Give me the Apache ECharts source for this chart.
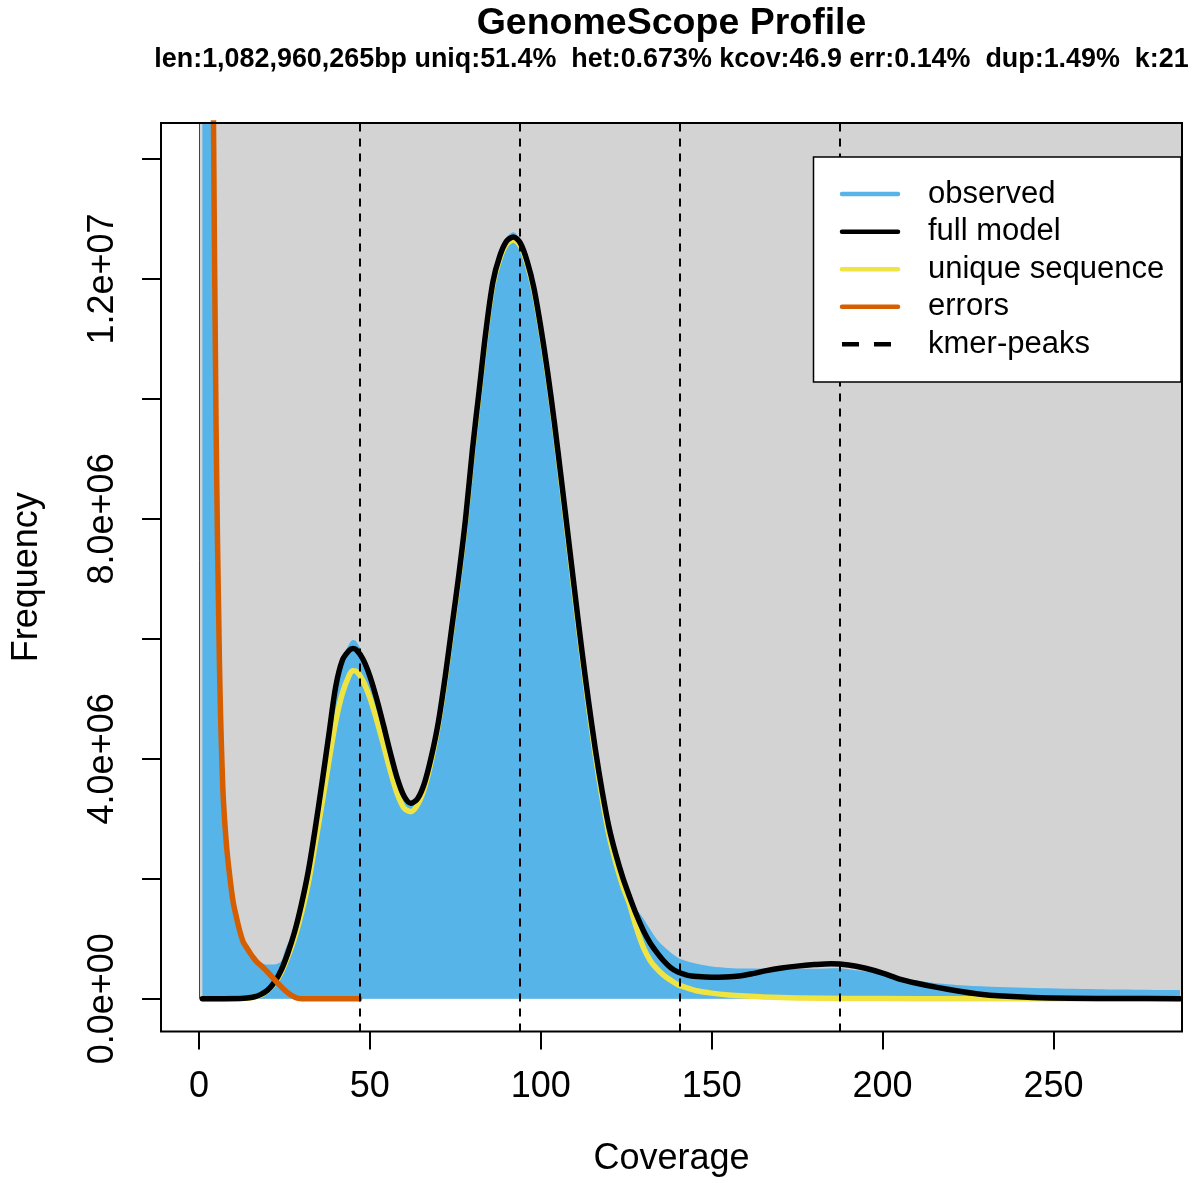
<!DOCTYPE html>
<html>
<head>
<meta charset="utf-8">
<title>GenomeScope Profile</title>
<script src="https://cdn.jsdelivr.net/npm/echarts@6/dist/echarts.min.js"></script>
<style>
  html, body { margin: 0; padding: 0; background: #ffffff; }
  #chart { width: 1194px; height: 1183px; }
</style>
</head>
<body>
<div id="chart"></div>
<script>
// k-mer spectrum: [coverage, frequency]
const observed = [
  [1, 1.8e8], [2, 4.8e7], [3, 2.4e7], [4, 1.62e7], [5, 9.8e6], [6, 5.8e6], [7, 3.6e6],
  [8, 2.7e6], [9, 2.12e6], [10, 1.7e6], [11, 1.42e6], [12, 1.18e6], [13, 1.0e6], [14, 0.88e6],
  [15, 0.79e6], [16, 0.72e6], [17, 0.66e6], [18, 0.61e6], [19, 0.58e6], [20, 0.57e6], [22, 0.57e6],
  [24, 0.62e6], [25, 0.78e6], [26, 0.92e6], [27, 1.05e6], [28, 1.2e6], [30, 1.62e6], [32, 2.15e6],
  [34, 2.87e6], [36, 3.65e6], [38, 4.45e6], [40, 5.23e6], [42, 5.69e6], [44, 5.92e6], [45, 5.98e6],
  [46, 5.96e6], [48, 5.74e6], [50, 5.42e6], [52, 5.03e6], [54, 4.58e6], [56, 4.12e6], [58, 3.7e6],
  [60, 3.4e6], [62, 3.28e6], [64, 3.36e6], [66, 3.62e6], [68, 4.06e6], [70, 4.62e6], [72, 5.38e6],
  [74, 6.23e6], [76, 7.08e6], [78, 8.03e6], [80, 9.18e6], [82, 10.18e6], [84, 11.18e6], [86, 11.98e6],
  [88, 12.42e6], [90, 12.7e6], [92, 12.78e6], [94, 12.65e6], [96, 12.34e6], [98, 11.88e6], [100, 11.24e6],
  [102, 10.49e6], [104, 9.64e6], [106, 8.71e6], [108, 7.76e6], [110, 6.8e6], [112, 5.86e6], [114, 4.99e6],
  [116, 4.19e6], [118, 3.49e6], [120, 2.89e6], [122, 2.45e6], [124, 2.08e6], [126, 1.76e6], [128, 1.5e6],
  [130, 1.34e6], [132, 1.16e6], [134, 0.99e6], [136, 0.87e6], [138, 0.77e6], [140, 0.69e6], [143, 0.62e6],
  [146, 0.58e6], [150, 0.54e6], [155, 0.515e6], [160, 0.505e6], [170, 0.5e6], [180, 0.5e6], [187, 0.51e6],
  [193, 0.47e6], [200, 0.41e6], [207, 0.34e6], [214, 0.27e6], [224, 0.22e6], [234, 0.195e6], [244, 0.18e6],
  [263, 0.16e6], [287, 0.145e6]
];

// fitted full model
const fullModel = [
  [1, 0], [12, 0.005e6], [14, 0.012e6], [16, 0.03e6], [18, 0.07e6], [20, 0.14e6], [22, 0.27e6],
  [24, 0.47e6], [26, 0.76e6], [28, 1.12e6], [30, 1.58e6], [32, 2.13e6], [34, 2.83e6], [36, 3.6e6],
  [38, 4.4e6], [40, 5.2e6], [42, 5.65e6], [44, 5.81e6], [45, 5.84e6], [46, 5.82e6], [48, 5.66e6],
  [50, 5.38e6], [52, 5.0e6], [54, 4.56e6], [56, 4.1e6], [58, 3.68e6], [60, 3.38e6], [62, 3.26e6],
  [64, 3.34e6], [66, 3.6e6], [68, 4.04e6], [70, 4.6e6], [72, 5.35e6], [74, 6.2e6], [76, 7.05e6],
  [78, 8.0e6], [80, 9.15e6], [82, 10.15e6], [84, 11.15e6], [86, 11.95e6], [88, 12.38e6], [90, 12.63e6],
  [92, 12.7e6], [94, 12.6e6], [96, 12.3e6], [98, 11.85e6], [100, 11.2e6], [102, 10.45e6], [104, 9.6e6],
  [106, 8.67e6], [108, 7.72e6], [110, 6.76e6], [112, 5.82e6], [114, 4.95e6], [116, 4.15e6], [118, 3.45e6],
  [120, 2.85e6], [122, 2.4e6], [124, 2.02e6], [126, 1.7e6], [128, 1.4e6], [130, 1.14e6], [132, 0.93e6],
  [134, 0.77e6], [136, 0.63e6], [138, 0.52e6], [140, 0.45e6], [143, 0.39e6], [146, 0.37e6], [150, 0.36e6],
  [154, 0.365e6], [158, 0.38e6], [162, 0.42e6], [166, 0.47e6], [170, 0.51e6], [175, 0.545e6], [180, 0.57e6],
  [185, 0.585e6], [190, 0.565e6], [195, 0.51e6], [200, 0.43e6], [205, 0.33e6], [210, 0.26e6], [216, 0.19e6],
  [222, 0.13e6], [228, 0.08e6], [235, 0.045e6], [244, 0.02e6], [255, 0.008e6], [270, 0.004e6], [287, 0.003e6]
];

// unique (non-repetitive) part of the model
const uniqueSequence = [
  [1, 0], [14, 0.01e6], [16, 0.03e6], [18, 0.06e6], [20, 0.13e6], [22, 0.25e6], [24, 0.43e6],
  [26, 0.7e6], [28, 1.02e6], [30, 1.43e6], [32, 1.93e6], [34, 2.58e6], [36, 3.25e6], [38, 3.95e6],
  [40, 4.62e6], [42, 5.1e6], [44, 5.4e6], [45, 5.47e6], [46, 5.46e6], [48, 5.3e6], [50, 5.02e6],
  [52, 4.65e6], [54, 4.23e6], [56, 3.8e6], [58, 3.42e6], [60, 3.18e6], [62, 3.12e6], [64, 3.24e6],
  [66, 3.52e6], [68, 3.97e6], [70, 4.55e6], [72, 5.3e6], [74, 6.15e6], [76, 7.0e6], [78, 7.95e6],
  [80, 9.1e6], [82, 10.1e6], [84, 11.1e6], [86, 11.9e6], [88, 12.33e6], [90, 12.58e6], [92, 12.65e6],
  [94, 12.55e6], [96, 12.25e6], [98, 11.8e6], [100, 11.15e6], [102, 10.4e6], [104, 9.55e6], [106, 8.6e6],
  [108, 7.64e6], [110, 6.67e6], [112, 5.74e6], [114, 4.85e6], [116, 4.04e6], [118, 3.33e6], [120, 2.72e6],
  [122, 2.26e6], [124, 1.88e6], [126, 1.57e6], [128, 1.18e6], [130, 0.86e6], [132, 0.64e6], [134, 0.5e6],
  [136, 0.39e6], [138, 0.31e6], [140, 0.24e6], [143, 0.18e6], [146, 0.13e6], [150, 0.095e6], [155, 0.065e6],
  [160, 0.045e6], [165, 0.03e6], [175, 0.015e6], [190, 0.007e6], [210, 0.003e6], [287, 0]
];

// sequencing-error k-mers
const errors = [
  [4, 1.65e7], [5, 9.6e6], [6, 5.6e6], [7, 3.5e6], [8, 2.6e6], [9, 2.05e6], [10, 1.62e6],
  [11, 1.35e6], [12, 1.12e6], [13, 0.94e6], [14, 0.85e6], [15, 0.76e6], [16, 0.68e6], [17, 0.61e6],
  [18, 0.56e6], [30, 0], [47, 0]
];

// k-mer peak positions (multiples of kcov)
const kmerPeaks = [46.9, 93.8, 140.7, 187.6];

// axis ticks and labels
const xTicks = [0, 50, 100, 150, 200, 250];
const yTicks = [0, 2e6, 4e6, 6e6, 8e6, 10e6, 12e6, 14e6];
const yLabelValues = [0, 4e6, 8e6, 12e6];
const yLabelTexts = ['0.0e+00', '4.0e+06', '8.0e+06', '1.2e+07'];

const legendNames = ['observed', 'full model', 'unique sequence', 'errors', 'kmer-peaks'];

const titleText = 'GenomeScope Profile';
const subtitleText = 'len:1,082,960,265bp uniq:51.4%  het:0.673% kcov:46.9 err:0.14%  dup:1.49%  k:21';

// ---- presentation ----
const FONT = 'Liberation Sans, Arial, Helvetica, sans-serif';
const COL_HIST = '#56B4E9';
const COL_MODEL = '#000000';
const COL_UNIQUE = '#F0E442';
const COL_ERR = '#D55E00';
const COL_BG = '#D3D3D3';

const X_MIN = -11.1, X_MAX = 287.6;
const Y_MIN = -0.545e6, Y_MAX = 14.6e6;

const PLOT = { left: 161, top: 123, right: 1182, bottom: 1031.5 };
const SMOOTH = 0.3;

const legendColors = [COL_HIST, COL_MODEL, COL_UNIQUE, COL_ERR, '#000000'];
const legendBox = { x: 813.5, y: 157, w: 367.5, h: 225 };
const legendRowY = [194, 231.7, 269.3, 306.7, 344.3];

const graphics = [
  // plot frame
  {
    type: 'rect', z: 50, silent: true,
    shape: { x: PLOT.left, y: PLOT.top, width: PLOT.right - PLOT.left, height: PLOT.bottom - PLOT.top },
    style: { fill: 'none', stroke: '#000', lineWidth: 2 }
  },
  // legend frame
  {
    type: 'rect', z: 60, silent: true,
    shape: { x: legendBox.x, y: legendBox.y, width: legendBox.w, height: legendBox.h },
    style: { fill: '#ffffff', stroke: '#000', lineWidth: 1.5 }
  }
];
legendNames.forEach((name, i) => {
  graphics.push({
    type: 'line', z: 61, silent: true,
    shape: { x1: 842, y1: legendRowY[i], x2: 898, y2: legendRowY[i] },
    style: {
      stroke: legendColors[i], lineWidth: 4.5, lineCap: i === 4 ? 'butt' : 'round',
      lineDash: i === 4 ? [17, 15] : null
    }
  });
  graphics.push({
    type: 'text', z: 61, silent: true,
    style: {
      text: name, x: 928, y: legendRowY[i], fill: '#000',
      fontSize: 31, fontFamily: FONT, verticalAlign: 'middle', align: 'left'
    }
  });
});

const chart = echarts.init(document.getElementById('chart'), null, { renderer: 'canvas' });

chart.setOption({
  animation: false,
  backgroundColor: '#ffffff',
  title: [
    {
      text: titleText, left: 671.5, top: 24, padding: 0,
      textAlign: 'center', textVerticalAlign: 'middle',
      textStyle: { fontSize: 37.5, fontWeight: 'bold', fontFamily: FONT, color: '#000', lineHeight: 38 }
    },
    {
      text: subtitleText, left: 671.5, top: 59.5, padding: 0,
      textAlign: 'center', textVerticalAlign: 'middle',
      textStyle: { fontSize: 26.9, fontWeight: 'bold', fontFamily: FONT, color: '#000', lineHeight: 28 }
    }
  ],
  grid: {
    left: PLOT.left, top: PLOT.top,
    width: PLOT.right - PLOT.left, height: PLOT.bottom - PLOT.top,
    containLabel: false
  },
  xAxis: {
    type: 'value', min: X_MIN, max: X_MAX,
    name: 'Coverage', nameLocation: 'middle', nameGap: 110,
    nameTextStyle: { fontSize: 36, fontFamily: FONT, color: '#000', lineHeight: 36 },
    axisLine: { show: false, onZero: false },
    splitLine: { show: false },
    axisTick: { show: true, customValues: xTicks, length: 18, lineStyle: { color: '#000', width: 2 } },
    axisLabel: {
      customValues: xTicks, margin: 38,
      fontSize: 36, fontFamily: FONT, color: '#000', lineHeight: 36
    }
  },
  yAxis: {
    type: 'value', min: Y_MIN, max: Y_MAX,
    name: 'Frequency', nameLocation: 'middle', nameGap: 116, nameRotate: 90,
    nameTextStyle: { fontSize: 36, fontFamily: FONT, color: '#000', lineHeight: 36 },
    axisLine: { show: false, onZero: false },
    splitLine: { show: false },
    axisTick: { show: true, customValues: yTicks, length: 19, lineStyle: { color: '#000', width: 2 } },
    axisLabel: {
      customValues: yLabelValues, rotate: 90, margin: 39.5,
      fontSize: 36, fontFamily: FONT, color: '#000', lineHeight: 36,
      formatter: v => yLabelTexts[yLabelValues.indexOf(v)]
    }
  },
  graphic: graphics,
  series: [
    {
      // grey panel behind the spectrum, with its left edge at coverage 0
      name: 'panel', type: 'line', data: [], silent: true,
      markArea: {
        silent: true,
        itemStyle: { color: COL_BG, opacity: 1, borderWidth: 0 },
        data: [[{ coord: [0, 0] }, { coord: [X_MAX, Y_MAX] }]]
      },
      markLine: {
        silent: true, symbol: ['none', 'none'], label: { show: false },
        lineStyle: { color: '#444', width: 1, type: 'solid' },
        data: [[{ coord: [0, 0] }, { coord: [0, Y_MAX] }]]
      }
    },
    {
      name: legendNames[0], type: 'line', data: observed, smooth: SMOOTH,
      symbol: 'none', showSymbol: false, silent: true,
      lineStyle: { width: 0, color: COL_HIST },
      areaStyle: { color: COL_HIST, opacity: 1, origin: 0 }
    },
    {
      name: legendNames[2], type: 'line', data: uniqueSequence, smooth: SMOOTH,
      symbol: 'none', showSymbol: false, silent: true,
      lineStyle: { width: 5.5, color: COL_UNIQUE, cap: 'round', join: 'round' }
    },
    {
      name: legendNames[1], type: 'line', data: fullModel, smooth: SMOOTH,
      symbol: 'none', showSymbol: false, silent: true,
      lineStyle: { width: 5.5, color: COL_MODEL, cap: 'round', join: 'round' }
    },
    {
      name: legendNames[3], type: 'line', data: errors, smooth: SMOOTH,
      symbol: 'none', showSymbol: false, silent: true,
      lineStyle: { width: 5.5, color: COL_ERR, cap: 'round', join: 'round' }
    },
    {
      name: legendNames[4], type: 'line', data: [], silent: true,
      markLine: {
        silent: true, symbol: ['none', 'none'], label: { show: false },
        lineStyle: { color: '#000', width: 2, type: [8, 7] },
        data: kmerPeaks.map(v => ({ xAxis: v }))
      }
    }
  ]
});
</script>
</body>
</html>
